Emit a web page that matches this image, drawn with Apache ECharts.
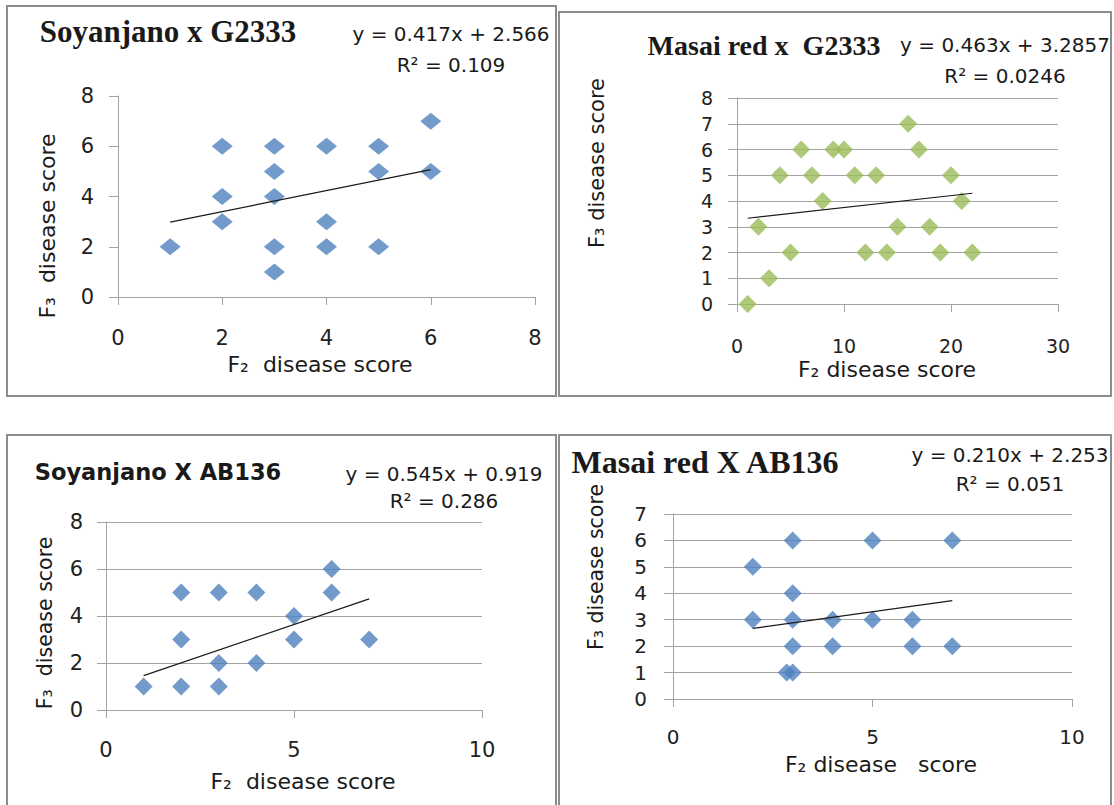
<!DOCTYPE html>
<html>
<head>
<meta charset="utf-8">
<script src="https://cdn.jsdelivr.net/npm/echarts@6/dist/echarts.min.js"></script>
<style>
  html, body { margin: 0; padding: 0; background: #fff; }
  #chart { width: 1114px; height: 805px; }
</style>
</head>
<body>
<div id="chart"></div>
<script>
// ---- data ----
// Soyanjano x G2333
const soyG2333X = [1, 2, 2, 2, 3, 3, 3, 3, 3, 4, 4, 4, 5, 5, 5, 6, 6];
const soyG2333Y = [2, 6, 4, 3, 6, 5, 4, 2, 1, 6, 3, 2, 6, 5, 2, 7, 5];
const soyG2333TrendX = [1, 6];
const soyG2333TrendY = [2.98, 5.07];

// Masai red x G2333
const masG2333X = [1, 2, 3, 4, 5, 6, 7, 8, 9, 10, 11, 12, 13, 14, 15, 16, 17, 18, 19, 20, 21, 22];
const masG2333Y = [0, 3, 1, 5, 2, 6, 5, 4, 6, 6, 5, 2, 5, 2, 3, 7, 6, 3, 2, 5, 4, 2];
const masG2333TrendX = [1, 22];
const masG2333TrendY = [3.33, 4.30];

// Soyanjano X AB136
const soyAB136X = [1, 2, 2, 2, 3, 3, 3, 4, 4, 5, 5, 6, 6, 7];
const soyAB136Y = [1, 5, 3, 1, 5, 2, 1, 5, 2, 4, 3, 6, 5, 3];
const soyAB136TrendX = [1, 7];
const soyAB136TrendY = [1.46, 4.73];

// Masai red X AB136
const masAB136X = [2, 2, 3, 3, 3, 3, 3, 2.85, 4, 4, 5, 5, 6, 6, 7, 7];
const masAB136Y = [5, 3, 6, 4, 3, 2, 1, 1, 3, 2, 6, 3, 3, 2, 6, 2];
const masAB136TrendX = [2, 7];
const masAB136TrendY = [2.67, 3.72];

// axis ranges
const xMax = [8, 30, 10, 10];
const xStep = [2, 10, 5, 5];
const yMax = [8, 8, 8, 7];
const yStep = [2, 1, 2, 1];

const titles = ['Soyanjano x G2333', 'Masai red x  G2333', 'Soyanjano X AB136', 'Masai red X AB136'];
const equations = [
  'y = 0.417x + 2.566\nR² = 0.109',
  'y = 0.463x + 3.2857\nR² = 0.0246',
  'y = 0.545x + 0.919\nR² = 0.286',
  'y = 0.210x + 2.253\nR² = 0.051'
];

const SANS = 'DejaVu Sans';
const SERIF = 'Liberation Serif';
const AXIS_GREY = '#a3a3a3';
const BLUE = '#4f81bd';
const GREEN = '#9bbb59';

function pairs(xs, ys) {
  return xs.map((x, i) => [x, ys[i]]);
}

let chart = echarts.init(document.getElementById('chart'), null, { renderer: 'svg' });

// plot boxes, one per panel
const grids = [
  { left: 118, top: 96, width: 417, height: 201 },
  { left: 737, top: 98, width: 321, height: 206 },
  { left: 106, top: 522, width: 376, height: 188 },
  { left: 673, top: 514, width: 399, height: 185 }
];
const labelSize = [21, 19, 21, 20];
const xLabelMargin = [30, 32, 29, 28];
const yLabelMargin = [24, 24, 23, 26];

let xAxes = [], yAxes = [];
for (let i = 0; i < 4; i++) {
  xAxes.push({
    type: 'value', gridIndex: i, min: 0, max: xMax[i], interval: xStep[i],
    axisLine: { show: true, lineStyle: { color: AXIS_GREY, width: 1 } },
    axisTick: { show: true, length: 8, lineStyle: { color: AXIS_GREY } },
    splitLine: { show: false },
    axisLabel: { color: '#222', fontFamily: SANS, fontSize: labelSize[i], margin: xLabelMargin[i] }
  });
  yAxes.push({
    type: 'value', gridIndex: i, min: 0, max: yMax[i], interval: yStep[i],
    axisLine: { show: true, lineStyle: { color: AXIS_GREY, width: 1 } },
    axisTick: { show: true, length: 9, lineStyle: { color: AXIS_GREY } },
    splitLine: { show: i !== 0, lineStyle: { color: AXIS_GREY, width: 1 } },
    axisLabel: { color: '#222', fontFamily: SANS, fontSize: labelSize[i], margin: yLabelMargin[i] }
  });
}

function scatter(idx, xs, ys, color, size) {
  return {
    type: 'scatter', xAxisIndex: idx, yAxisIndex: idx,
    symbol: 'diamond', symbolSize: size,
    itemStyle: { color: color },
    data: pairs(xs, ys)
  };
}
function trend(idx, xs, ys) {
  return {
    type: 'line', xAxisIndex: idx, yAxisIndex: idx, symbol: 'none', z: 3,
    lineStyle: { color: '#1a1a1a', width: 1.2 },
    data: pairs(xs, ys)
  };
}

function txt(x, y, text, font, extra) {
  return Object.assign({
    type: 'text', x: x, y: y, z: 10,
    style: Object.assign({
      text: text, fill: '#1a1a1a', align: 'center', verticalAlign: 'middle'
    }, font)
  }, extra || {});
}
function frame(x, y, w, h) {
  return {
    type: 'rect', z: 0, silent: true,
    shape: { x: x, y: y, width: w, height: h },
    style: { fill: 'none', stroke: '#8c8c8c', lineWidth: 2 }
  };
}

const rot = { rotation: Math.PI / 2 };
const graphics = [
  frame(7, 6, 549, 390),
  frame(559, 12, 552, 384),
  frame(7, 435, 549, 390),
  frame(559, 435, 552, 390),

  // titles
  txt(168, 31, titles[0], { fontFamily: SERIF, fontWeight: 'bold', fontSize: 31 }),
  txt(764, 45, titles[1], { fontFamily: SERIF, fontWeight: 'bold', fontSize: 28 }),
  txt(158, 472, titles[2], { fontFamily: SANS, fontWeight: 'bold', fontSize: 22.5 }),
  txt(705, 462, titles[3], { fontFamily: SERIF, fontWeight: 'bold', fontSize: 32 }),

  // trendline equations
  txt(451, 49.5, equations[0], { fontFamily: SANS, fontSize: 20, lineHeight: 31 }),
  txt(1005, 60.5, equations[1], { fontFamily: SANS, fontSize: 20, lineHeight: 31 }),
  txt(444, 487.5, equations[2], { fontFamily: SANS, fontSize: 20, lineHeight: 27 }),
  txt(1010, 469.5, equations[3], { fontFamily: SANS, fontSize: 20, lineHeight: 29 }),

  // axis titles
  txt(320, 364, 'F₂  disease score', { fontFamily: SANS, fontSize: 22 }),
  txt(47, 226, 'F₃  disease score', { fontFamily: SANS, fontSize: 22 }, rot),
  txt(887, 369, 'F₂ disease score', { fontFamily: SANS, fontSize: 22 }),
  txt(597, 163, 'F₃ disease score', { fontFamily: SANS, fontSize: 21 }, rot),
  txt(303, 781, 'F₂  disease score', { fontFamily: SANS, fontSize: 22 }),
  txt(45, 623, 'F₃  disease score', { fontFamily: SANS, fontSize: 20.5 }, rot),
  txt(881, 764, 'F₂ disease   score', { fontFamily: SANS, fontSize: 22 }),
  txt(596, 567, 'F₃ disease score', { fontFamily: SANS, fontSize: 20.5 }, rot)
];

let option = {
  animation: false,
  backgroundColor: '#fff',
  grid: grids,
  xAxis: xAxes,
  yAxis: yAxes,
  graphic: graphics,
  series: [
    scatter(0, soyG2333X, soyG2333Y, BLUE, [21, 17]),
    trend(0, soyG2333TrendX, soyG2333TrendY),
    scatter(1, masG2333X, masG2333Y, GREEN, 18),
    trend(1, masG2333TrendX, masG2333TrendY),
    scatter(2, soyAB136X, soyAB136Y, BLUE, 18),
    trend(2, soyAB136TrendX, soyAB136TrendY),
    scatter(3, masAB136X, masAB136Y, BLUE, 18),
    trend(3, masAB136TrendX, masAB136TrendY)
  ]
};

chart.setOption(option);
</script>
</body>
</html>
